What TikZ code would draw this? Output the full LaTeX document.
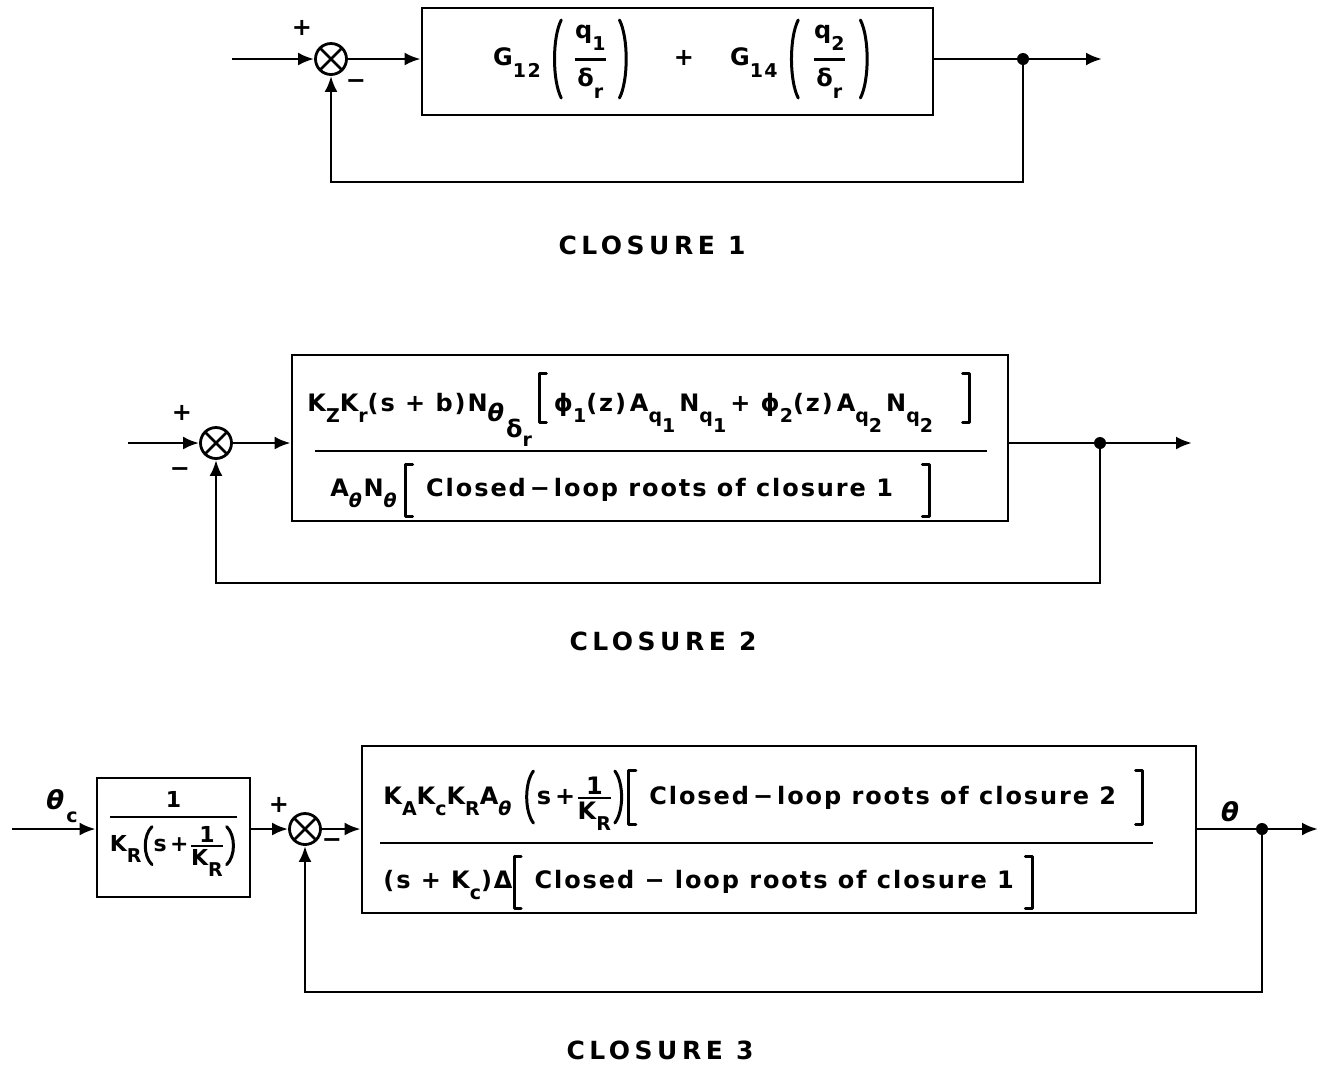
\documentclass[tikz,border=0pt]{standalone}
\usepackage{amsmath}
\usepackage{graphicx}
\usepackage{fontspec}
\setmainfont{DejaVu Sans}[LetterSpace=8]
\newfontfamily\ttlfont{DejaVu Sans}[LetterSpace=18]
\usetikzlibrary{arrows.meta}
\newcommand{\dn}[1]{\raisebox{-0.9ex}{\fontsize{9.5}{9.5}\selectfont #1}}
\newcommand{\thx}{\textit{θ}}
% drawn brackets: #1 height above baseline, #2 depth below baseline (pt)
\newcommand{\lbk}[2]{\tikz[baseline=0pt,x=1pt,y=1pt]\draw[line width=1.5pt,line cap=round,line join=round] (3.5,#1) -- (0,#1) -- (0,-#2) -- (3.5,-#2);}
\newcommand{\rbk}[2]{\tikz[baseline=0pt,x=1pt,y=1pt]\draw[line width=1.5pt,line cap=round,line join=round] (0,#1) -- (3.5,#1) -- (3.5,-#2) -- (0,-#2);}
% drawn parentheses: #1 half height, #2 centre above baseline (pt)
\newcommand{\lpr}[2]{\tikz[baseline=0pt,x=1pt,y=1pt]\draw[line width=1.5pt,line cap=round] (4,#2+#1) .. controls (-0.5,#2+0.55*#1) and (-0.5,#2-0.55*#1) .. (4,#2-#1);}
\newcommand{\rpr}[2]{\tikz[baseline=0pt,x=1pt,y=1pt]\draw[line width=1.5pt,line cap=round] (0,#2+#1) .. controls (4.5,#2+0.55*#1) and (4.5,#2-0.55*#1) .. (0,#2-#1);}
\begin{document}
\begin{tikzpicture}[x=0.5pt,y=-0.5pt,line width=1.4pt,
  blk/.style={draw,rectangle,inner sep=0pt,line width=1.4pt},
  sumj/.style={circle,draw,minimum size=15.5pt,inner sep=0pt,line width=1.4pt,
    path picture={\draw[line width=1.3pt]
      (path picture bounding box.north west) -- (path picture bounding box.south east)
      (path picture bounding box.north east) -- (path picture bounding box.south west);}},
  jdot/.style={circle,fill,minimum size=6pt,inner sep=0pt},
  arr/.style={-{Latex[length=8pt,width=6.5pt]}},
  sign/.style={font=\fontsize{12}{12}\bfseries\selectfont,inner sep=0pt},
  formula/.style={font=\fontsize{12}{14}\bfseries\selectfont,inner sep=0pt},
  ttl/.style={font=\ttlfont\bfseries\fontsize{12.5}{14}\selectfont,inner sep=0pt}]
\useasboundingbox (0,0) rectangle (1320,1067);

% ---------------- Closure 1 ----------------
\node[blk,minimum width=255.5pt,minimum height=53.5pt] (b1) at (677.5,61.5) {};
\node[sumj] (s1) at (331,59) {};
\coordinate (in1) at (232,59);
\coordinate (out1) at (1102,59);
\node[jdot] (d1) at (1023,59) {};
\coordinate (fb1) at (1023,182);
\node[sign] (p1) at (302,28) {+};
\node[sign] (m1) at (356,84) {−};
\node[formula] (f1) at (682,59) {G\dn{12}\hspace{5pt}\lpr{19.5}{3.2}\hspace{5pt}$\genfrac{}{}{1.3pt}{0}{\mbox{q\dn{1}}}{\mbox{δ\dn{r}\rule[-4pt]{0pt}{1pt}}}$\hspace{5pt}\rpr{19.5}{3.2}\hspace{22pt}+\hspace{18pt}G\dn{14}\hspace{5pt}\lpr{19.5}{3.2}\hspace{6pt}$\genfrac{}{}{1.3pt}{0}{\mbox{q\dn{2}}}{\mbox{δ\dn{r}\rule[-4pt]{0pt}{1pt}}}$\hspace{6pt}\rpr{19.5}{3.2}};
\draw[arr] (in1) -- (s1.west);
\draw[arr] (s1.east) -- (s1.east -| b1.west);
\draw (s1 -| b1.east) -- (d1.center);
\draw[arr] (d1.center) -- (out1);
\draw[arr] (d1.center) -- (fb1) -| (s1.south);
\node[ttl] (t1) at (652,245) {CLOSURE 1};

% ---------------- Closure 2 ----------------
\node[blk,minimum width=358pt,minimum height=83pt] (b2) at (650,438) {};
\node[sumj] (s2) at (216,443) {};
\coordinate (in2) at (128,443);
\coordinate (out2) at (1192,443);
\node[jdot] (d2) at (1100,443) {};
\coordinate (fb2) at (1100,583);
\node[sign] (p2) at (182,413) {+};
\node[sign] (m2) at (180,472) {−};
\node[formula,anchor=base west] (n2) at (307,411) {K\dn{Z}K\dn{r}(s + b)N\raisebox{-0.8ex}{\thx}\raisebox{-2.0ex}{δ\raisebox{-0.7ex}{\fontsize{9.5}{9.5}\selectfont r}}\hspace{3pt}\lbk{19}{5.5}\hspace{3pt}ϕ\dn{1}(z)\,A\dn{q\dn{1}}\,N\dn{q\dn{1}}\,+ ϕ\dn{2}(z)\,A\dn{q\dn{2}}\,N\dn{q\dn{2}}\hspace{14pt}\rbk{19}{5.5}};
\draw (315,451) -- (987,451);
\node[formula,anchor=base west] (d2t) at (330,496) {A\dn{\thx}N\dn{\thx}\hspace{3pt}\lbk{16}{10}\hspace{6pt}Closed\,−\,loop roots of closure 1\hspace{14pt}\rbk{16}{10}};
\draw[arr] (in2) -- (s2.west);
\draw[arr] (s2.east) -- (s2.east -| b2.west);
\draw (s2 -| b2.east) -- (d2.center);
\draw[arr] (d2.center) -- (out2);
\draw[arr] (d2.center) -- (fb2) -| (s2.south);
\node[ttl] (t2) at (663,641) {CLOSURE 2};

% ---------------- Closure 3 ----------------
\node[blk,minimum width=76.5pt,minimum height=59.5pt] (pf) at (173.5,837.5) {};
\node[font=\fontsize{11}{13}\bfseries\selectfont,inner sep=0pt] (pft) at (173.5,834) {$\genfrac{}{}{1.2pt}{0}{\mbox{1}}{\mbox{K\dn{R}\lpr{9.5}{3}s\,+}\genfrac{}{}{1.2pt}{1}{\mbox{1}}{\mbox{K\dn{R}}}\mbox{\rpr{9.5}{3}}}$};
\node[blk,minimum width=417pt,minimum height=83.5pt] (b3) at (779,829.5) {};
\node[sumj] (s3) at (305,829) {};
\coordinate (in3) at (12,829);
\coordinate (out3) at (1318,829);
\node[jdot] (d3) at (1262,829) {};
\coordinate (fb3) at (1262,992);
\node[sign] (p3) at (279,805) {+};
\node[sign] (m3) at (332,843) {−};
\node[font=\fontsize{13}{13}\bfseries\selectfont,inner sep=0pt] (thc) at (62,806) {\thx\dn{c}};
\node[font=\fontsize{13}{13}\bfseries\selectfont,inner sep=0pt] (th) at (1231,812) {\thx};
\node[formula,anchor=base west] (n3) at (383,804) {K\dn{A}K\dn{c}K\dn{R}A\dn{\thx}\hspace{5pt}\lpr{13}{3.5}\hspace{1pt}s\,+$\genfrac{}{}{1.2pt}{1}{\mbox{1}}{\mbox{K\dn{R}}}$\rpr{13}{3.5}\hspace{1pt}\lbk{17}{10}\hspace{6pt}Closed\,−\,loop roots of closure 2\hspace{9pt}\rbk{17}{10}};
\draw (380,843) -- (1153,843);
\node[formula,anchor=base west] (d3t) at (383,888) {(s + K\dn{c})Δ\lbk{16}{10}\hspace{6pt}Closed − loop roots of closure 1\hspace{5pt}\rbk{16}{10}};
\draw[arr] (in3) -- (pf.west |- in3);
\draw[arr] (pf.east |- s3) -- (s3.west);
\draw[arr] (s3.east) -- (s3.east -| b3.west);
\draw (s3 -| b3.east) -- (d3.center);
\draw[arr] (d3.center) -- (out3);
\draw[arr] (d3.center) -- (fb3) -| (s3.south);
\node[ttl] (t3) at (660,1050) {CLOSURE 3};
\end{tikzpicture}
\end{document}
